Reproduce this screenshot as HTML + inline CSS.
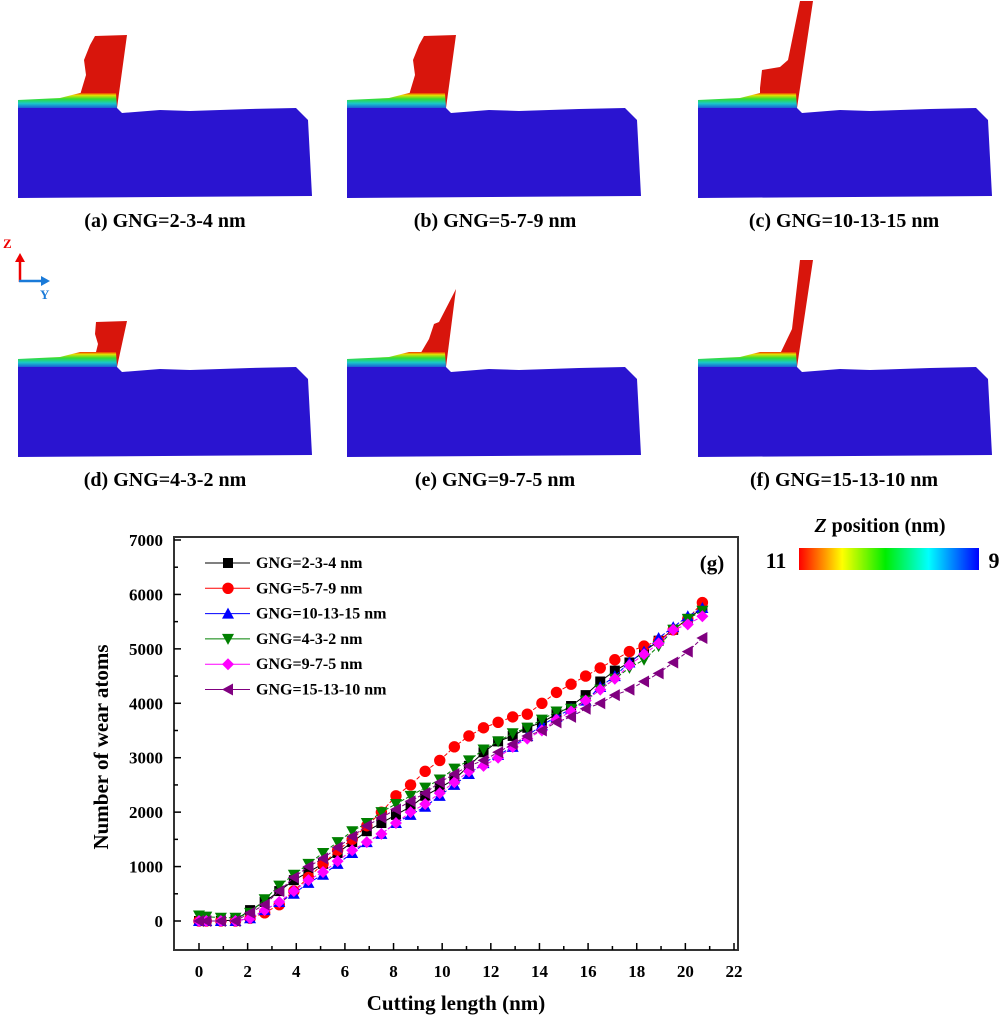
<!DOCTYPE html>
<html><head><meta charset="utf-8"><style>
html,body{margin:0;padding:0;background:#fff;}
svg{display:block;font-family:"Liberation Serif",serif;font-weight:bold;}
</style></head><body>
<svg id="fig" width="1000" height="1019" viewBox="0 0 1000 1019" xmlns="http://www.w3.org/2000/svg">
<defs>
<linearGradient id="chipG" x1="0" y1="1" x2="0" y2="0">
<stop offset="0" stop-color="#1a5cd8"/><stop offset="0.3" stop-color="#19c9c9"/><stop offset="0.6" stop-color="#33dd33"/><stop offset="0.85" stop-color="#e6e000"/><stop offset="1" stop-color="#ee3300"/>
</linearGradient>
<linearGradient id="cbar" x1="0" y1="0" x2="1" y2="0">
<stop offset="0" stop-color="#ff0000"/><stop offset="0.24" stop-color="#ffff00"/><stop offset="0.48" stop-color="#00ee00"/><stop offset="0.72" stop-color="#00ffff"/><stop offset="1" stop-color="#0000ff"/>
</linearGradient>
</defs>
<g id="panels"></g>
<g>
<text x="3" y="248" font-size="13" fill="#e00">Z</text>
<line x1="20" y1="282" x2="20" y2="258" stroke="#e00" stroke-width="2.5"/>
<polygon points="15,262 25,262 20,253" fill="#e00"/>
<line x1="19" y1="281" x2="44" y2="281" stroke="#1a7ad8" stroke-width="2.5"/>
<polygon points="41,276 41,286 50,281" fill="#1a7ad8"/>
<text x="40" y="299" font-size="13" fill="#1a7ad8">Y</text>
</g>
<g>
<text x="880" y="532" font-size="20" text-anchor="middle"><tspan font-style="italic">Z</tspan> position (nm)</text>
<rect x="799" y="548" width="180" height="22" fill="url(#cbar)"/>
<text x="776" y="568" font-size="22" text-anchor="middle">11</text>
<text x="994" y="568" font-size="22" text-anchor="middle">9</text>
</g>
<g id="chart"></g>
</svg>
<script>
const xs=[0,0.3,0.9,1.5,2.1,2.7,3.3,3.9,4.5,5.1,5.7,6.3,6.9,7.5,8.1,8.7,9.3,9.9,10.5,11.1,11.7,12.3,12.9,13.5,14.1,14.7,15.3,15.9,16.5,17.1,17.7,18.3,18.9,19.5,20.1,20.7];
const sBlack=[0,0,0,20,200,350,550,750,900,1050,1250,1450,1650,1800,1950,2100,2300,2450,2600,2850,3100,3300,3400,3550,3650,3800,3950,4150,4400,4600,4750,4950,5150,5350,5550,5750];
const sRed=[0,0,0,0,50,150,300,550,800,1050,1300,1500,1750,2000,2300,2500,2750,2950,3200,3400,3550,3650,3750,3800,4000,4200,4350,4500,4650,4800,4950,5050,5150,5350,5550,5850];
const sBlue=[0,0,0,0,50,200,350,500,700,850,1050,1250,1450,1600,1800,1950,2100,2300,2500,2700,2900,3050,3200,3400,3600,3750,3900,4050,4300,4500,4750,4950,5200,5400,5600,5750];
const sGreen=[100,80,60,60,150,400,650,850,1050,1250,1450,1650,1800,2000,2150,2300,2450,2600,2800,2950,3150,3300,3450,3550,3700,3850,3900,4050,4250,4450,4650,4800,5050,5350,5550,5700];
const sMag=[0,0,0,0,50,200,350,550,750,900,1100,1300,1450,1600,1800,2000,2150,2350,2550,2750,2850,3000,3200,3350,3500,3700,3850,4050,4250,4450,4700,4900,5100,5350,5450,5600];
const sPurp=[0,0,0,0,150,300,550,800,1000,1150,1350,1550,1750,1900,2050,2200,2350,2550,2700,2850,2950,3100,3250,3400,3500,3650,3750,3900,4000,4150,4250,4400,4550,4750,4950,5200];
const seriesNames=["GNG=2-3-4 nm","GNG=5-7-9 nm","GNG=10-13-15 nm","GNG=4-3-2 nm","GNG=9-7-5 nm","GNG=15-13-10 nm"];
const xTicks=[0,2,4,6,8,10,12,14,16,18,20,22];
const yTicks=[0,1000,2000,3000,4000,5000,6000,7000];
const panelLabels=["(a) GNG=2-3-4 nm","(b) GNG=5-7-9 nm","(c) GNG=10-13-15 nm","(d) GNG=4-3-2 nm","(e) GNG=9-7-5 nm","(f) GNG=15-13-10 nm"];

const NS="http://www.w3.org/2000/svg";
function mk(tag,attrs,parent){const e=document.createElementNS(NS,tag);for(const k in attrs)e.setAttribute(k,attrs[k]);parent.appendChild(e);return e;}

const panels=document.getElementById('panels');
const cols=[0,329,680];
const rows=[0,259];
const toolTop=[[[90,45],[95,36],[127,35],[117,108],[78,108],[80,95],[86,75],[84,60]],
 [[90,45],[95,36],[127,35],[117,108],[78,108],[80,95],[86,75],[84,60]],
 [[120,1],[133,1],[117,108],[80,108],[80,88],[82,70],[100,67],[108,60]]];
const toolBot=[[[96,63],[127,62],[117,108],[72,108],[80,100],[95,97],[98,85],[95,75]],
 [[110,63],[127,30],[117,108],[75,108],[80,100],[90,97],[100,80],[105,65]],
 [[120,1],[133,1],[117,108],[80,108],[80,98],[100,95],[112,70]]];
const labelX=[165,495,844];
for(let r=0;r<2;r++)for(let c=0;c<3;c++){
 const g=mk('g',{transform:`translate(${cols[c]},${rows[r]})`},panels);
 
 
 const tp=(r?toolBot:toolTop)[c];
 mk('polygon',{points:tp.map(p=>p.join(',')).join(' '),fill:'#d8150c'},g);
 mk('polygon',{points:'18,100 60,98 80,93 116,93 117,108 18,108',fill:'url(#chipG)'},g);
 mk('polygon',{points:'18,108 117,108 122,113 160,110 190,111 250,109 296,108 308,120 312,196 18,198',fill:'#2a14d0'},g);
 const t=mk('text',{x:labelX[c]-cols[c],y:227,'font-size':20,'text-anchor':'middle'},g);
 t.textContent=panelLabels[r*3+c];
 
 
}

const chart=document.getElementById('chart');
const L=174,R=738,T=537,B=950;
const xS=v=>199+(734-199)*v/22;
const yS=v=>921-(921-540)*v/7000;
mk('rect',{x:L,y:T,width:R-L,height:B-T,fill:'none',stroke:'#333','stroke-width':2},chart);
xTicks.forEach((t,i)=>{
 mk('line',{x1:xS(t),x2:xS(t),y1:B,y2:B-7,stroke:'#000','stroke-width':1.5},chart);
 if(i<xTicks.length-1)mk('line',{x1:xS(t+1),x2:xS(t+1),y1:B,y2:B-4,stroke:'#000','stroke-width':1.5},chart);
 const tx=mk('text',{x:xS(t),y:977,'font-size':17,'text-anchor':'middle'},chart);
 tx.textContent=t;
 
 
});
yTicks.forEach((t,i)=>{
 mk('line',{x1:L,x2:L+7,y1:yS(t),y2:yS(t),stroke:'#000','stroke-width':1.5},chart);
 if(i<yTicks.length-1)mk('line',{x1:L,x2:L+4,y1:yS(t+500),y2:yS(t+500),stroke:'#000','stroke-width':1.5},chart);
 const ty=mk('text',{x:163,y:yS(t)+6,'font-size':17,'text-anchor':'end'},chart);
 ty.textContent=t;
 
 
});
const xt=mk('text',{x:456,y:1010,'font-size':21,'text-anchor':'middle'},chart);
xt.textContent='Cutting length (nm)';


const yt=mk('text',{x:0,y:0,'font-size':21,'text-anchor':'middle',transform:'translate(108,747) rotate(-90)'},chart);
yt.textContent='Number of wear  atoms';


const gl=mk('text',{x:712,y:570,'font-size':21,'text-anchor':'middle'},chart);
gl.textContent='(g)';



const allS=[sBlack,sRed,sBlue,sGreen,sMag,sPurp];
const colors=['#000','#f00','#00f','#008000','#f0f','#800080'];
const shapes=['sq','ci','tu','td','di','tl'];
function marker(g,shape,x,y,col){
 const s=5;let e;
 if(shape==='sq')e=mk('rect',{x:x-s,y:y-s,width:2*s,height:2*s,fill:col},g);
 else if(shape==='ci')e=mk('circle',{cx:x,cy:y,r:s+0.7,fill:col},g);
 else if(shape==='tu')e=mk('polygon',{points:`${x-s-1},${y+s} ${x+s+1},${y+s} ${x},${y-s-1}`,fill:col},g);
 else if(shape==='td')e=mk('polygon',{points:`${x-s-1},${y-s} ${x+s+1},${y-s} ${x},${y+s+1}`,fill:col},g);
 else if(shape==='di')e=mk('polygon',{points:`${x},${y-s-1} ${x+s+1},${y} ${x},${y+s+1} ${x-s-1},${y}`,fill:col},g);
 else e=mk('polygon',{points:`${x+s},${y-s-1} ${x+s},${y+s+1} ${x-s-1},${y}`,fill:col},g);
 return e;
}
allS.forEach((s,k)=>{
 const g=mk('g',{},chart);
 
 
 mk('polyline',{points:s.map((v,i)=>xS(xs[i])+','+yS(v)).join(' '),fill:'none',stroke:colors[k],'stroke-width':1,'stroke-dasharray':k===0?'none':'4,2'},g);
 s.forEach((v,i)=>{
  const m=marker(g,shapes[k],xS(xs[i]),yS(v),colors[k]);
  
  
 });
});
seriesNames.forEach((n,k)=>{
 const y=563+k*25.3;
 const g=mk('g',{},chart);
 
 
 mk('line',{x1:205,x2:250,y1:y,y2:y,stroke:colors[k],'stroke-width':1},g);
 marker(g,shapes[k],228,y,colors[k]);
 const t=mk('text',{x:256,y:y+5,'font-size':16},g);
 t.textContent=n;
});
</script>
</body></html>
